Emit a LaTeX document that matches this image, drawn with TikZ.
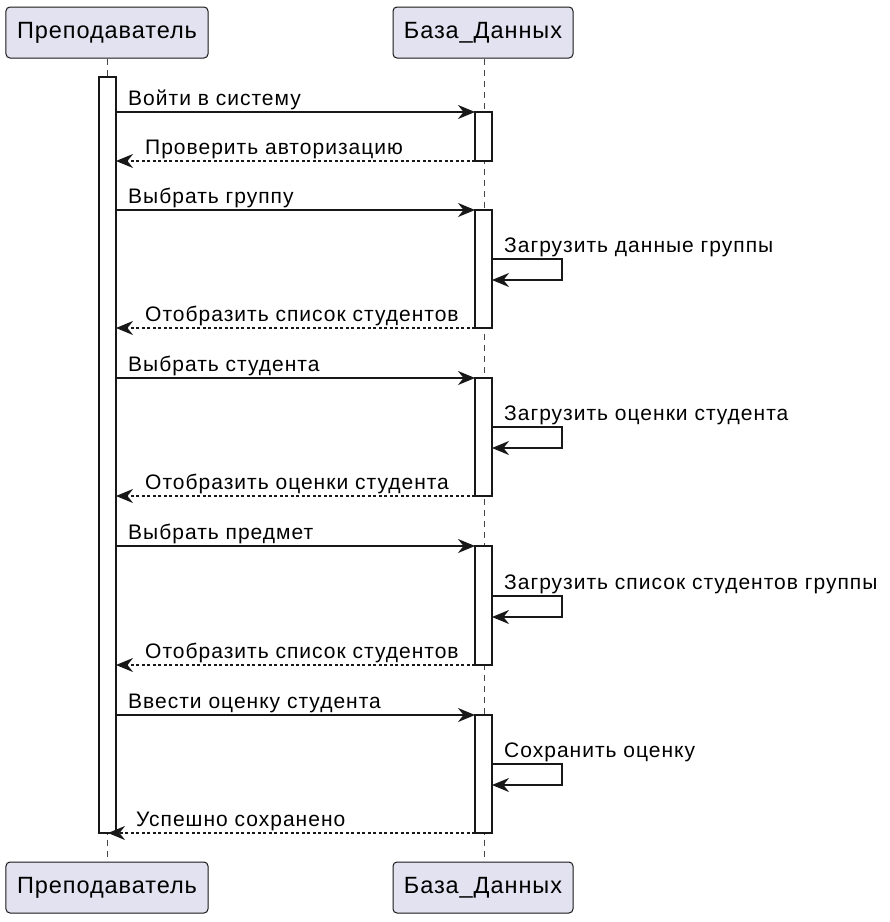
\documentclass[tikz,border=0pt]{standalone}
\usepackage{fontspec}
\setmainfont{Liberation Sans}
\newfontfamily\msgfont[LetterSpace=4.8]{Liberation Sans}
\newfontfamily\partfont[LetterSpace=4]{Liberation Sans}
\usetikzlibrary{arrows.meta}
\definecolor{partfill}{HTML}{E2E2F0}
\definecolor{ink}{HTML}{181818}
\tikzset{
  partbox/.style={draw=ink, fill=partfill, line width=1bp, rounded corners=4bp,
    minimum height=51bp, inner sep=0pt, font=\partfont\fontsize{23.5bp}{28bp}\selectfont},
  lifeline/.style={draw=ink!80, line width=1bp, dash pattern=on 6bp off 5bp},
  actbar/.style={draw=ink, fill=white, line width=1.5bp, minimum width=17bp, inner sep=0pt},
  msg/.style={draw=ink, line width=1.5bp, -{Stealth[length=17bp,width=14bp,inset=5.5bp]}},
  retmsg/.style={msg, dash pattern=on 3bp off 2.5bp},
  lbl/.style={anchor=base west, inner sep=0pt, font=\msgfont\fontsize{21bp}{25bp}\selectfont}
}
\begin{document}
\begin{tikzpicture}[x=1bp,y=-1bp]
\path[use as bounding box, fill=white] (0,0) rectangle (890,922);
% participants
\node[partbox, minimum width=202bp] (pt) at (107,32.5) {Преподаватель};
\node[partbox, minimum width=180bp] (dt) at (483,32.5) {База\_Данных};
\node[partbox, minimum width=202bp] (pb) at (107,887.5) {Преподаватель};
\node[partbox, minimum width=180bp] (db) at (483,887.5) {База\_Данных};
% lifelines
\draw[lifeline] (pt.south -| 107,0) -- (pb.north -| 107,0);
\draw[lifeline] (dt.south -| 484,0) -- (db.north -| 484,0);
% activation bars
\node[actbar, minimum height=756bp] (a0) at (107.5,455) {};
\node[actbar, minimum height=49bp] (b1) at (483.5,136.5) {};
\node[actbar, minimum height=118bp] (b2) at (483.5,269) {};
\node[actbar, minimum height=118bp] (b3) at (483.5,437) {};
\node[actbar, minimum height=119bp] (b4) at (483.5,605.5) {};
\node[actbar, minimum height=118bp] (b5) at (483.5,774) {};
% endpoints
\coordinate (L1) at (116,112);  \coordinate (R1) at (475,112);
\coordinate (L2) at (116,161);  \coordinate (R2) at (475,161);
\coordinate (L3) at (116,210);  \coordinate (R3) at (475,210);
\coordinate (S4a) at (492,259); \coordinate (S4b) at (562,259); \coordinate (S4c) at (562,280); \coordinate (S4d) at (492,280);
\coordinate (L5) at (116,328);  \coordinate (R5) at (475,328);
\coordinate (L6) at (116,378);  \coordinate (R6) at (475,378);
\coordinate (S7a) at (492,427); \coordinate (S7b) at (562,427); \coordinate (S7c) at (562,448); \coordinate (S7d) at (492,448);
\coordinate (L8) at (116,496);  \coordinate (R8) at (475,496);
\coordinate (L9) at (116,546);  \coordinate (R9) at (475,546);
\coordinate (S10a) at (492,596); \coordinate (S10b) at (562,596); \coordinate (S10c) at (562,617); \coordinate (S10d) at (492,617);
\coordinate (L11) at (116,665); \coordinate (R11) at (475,665);
\coordinate (L12) at (116,715); \coordinate (R12) at (475,715);
\coordinate (S13a) at (492,764); \coordinate (S13b) at (562,764); \coordinate (S13c) at (562,785); \coordinate (S13d) at (492,785);
\coordinate (L14) at (108,833); \coordinate (R14) at (475,833);
% messages
\draw[msg] (L1) -- (R1);
\draw[retmsg] (R2) -- (L2);
\draw[msg] (L3) -- (R3);
\draw[msg] (S4a) -- (S4b) -- (S4c) -- (S4d);
\draw[retmsg] (R5) -- (L5);
\draw[msg] (L6) -- (R6);
\draw[msg] (S7a) -- (S7b) -- (S7c) -- (S7d);
\draw[retmsg] (R8) -- (L8);
\draw[msg] (L9) -- (R9);
\draw[msg] (S10a) -- (S10b) -- (S10c) -- (S10d);
\draw[retmsg] (R11) -- (L11);
\draw[msg] (L12) -- (R12);
\draw[msg] (S13a) -- (S13b) -- (S13c) -- (S13d);
\draw[retmsg] (R14) -- (L14);
% labels
\node[lbl] (t1) at (128,105) {Войти в систему};
\node[lbl] (t2) at (145,154) {Проверить авторизацию};
\node[lbl] (t3) at (128,203) {Выбрать группу};
\node[lbl] (t4) at (504,252) {Загрузить данные группы};
\node[lbl] (t5) at (145,321) {Отобразить список студентов};
\node[lbl] (t6) at (128,371) {Выбрать студента};
\node[lbl] (t7) at (504,420) {Загрузить оценки студента};
\node[lbl] (t8) at (145,489) {Отобразить оценки студента};
\node[lbl] (t9) at (128,539) {Выбрать предмет};
\node[lbl] (t10) at (504,589) {Загрузить список студентов группы};
\node[lbl] (t11) at (145,658) {Отобразить список студентов};
\node[lbl] (t12) at (128,708) {Ввести оценку студента};
\node[lbl] (t13) at (504,757) {Сохранить оценку};
\node[lbl] (t14) at (136,826) {Успешно сохранено};
\end{tikzpicture}
\end{document}
